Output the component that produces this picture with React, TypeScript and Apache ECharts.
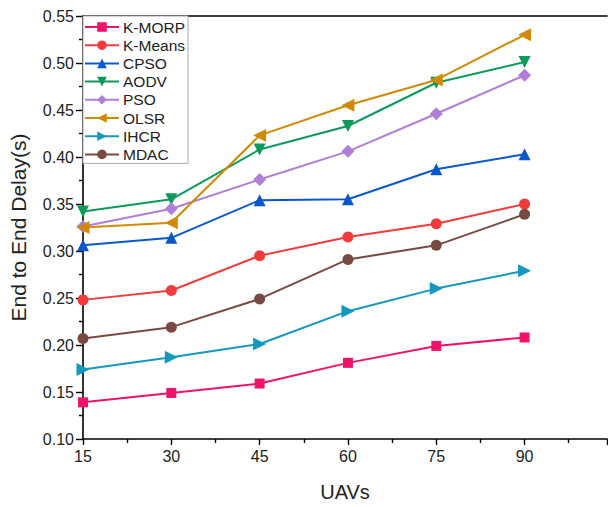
import React, { useEffect, useRef } from "react";
import * as echarts from "echarts";

const uavs = [15, 30, 45, 60, 75, 90];
const seriesNames = ["K-MORP", "K-Means", "CPSO", "AODV", "PSO", "OLSR", "IHCR", "MDAC"];
const kMorp = [0.139, 0.149, 0.159, 0.181, 0.199, 0.208];
const kMeans = [0.248, 0.258, 0.295, 0.315, 0.329, 0.350];
const cpso = [0.306, 0.314, 0.354, 0.355, 0.387, 0.403];
const aodv = [0.342, 0.355, 0.408, 0.433, 0.479, 0.501];
const pso = [0.326, 0.345, 0.376, 0.406, 0.446, 0.487];
const olsr = [0.325, 0.330, 0.423, 0.455, 0.482, 0.530];
const ihcr = [0.174, 0.187, 0.201, 0.236, 0.260, 0.279];
const mdac = [0.207, 0.219, 0.249, 0.291, 0.306, 0.339];
const allValues = [kMorp, kMeans, cpso, aodv, pso, olsr, ihcr, mdac];

const colors = ["#F0136A", "#F23B3B", "#0A58CC", "#0B9A5C", "#B07ED6", "#D08A05", "#1598BE", "#784B42"];
const symbols = ["rect", "circle", "triangle", "triangle", "diamond", "triangle", "triangle", "circle"];
const rotations = [0, 0, 0, 180, 0, 90, -90, 0];
const sizes = [10, 11, 12, 12, 13, 13, 13, 11];

const FONT = "'Liberation Sans', Arial, sans-serif";

export default function App() {
  const ref = useRef<HTMLDivElement>(null);
  useEffect(() => {
    if (!ref.current) return;
    const chart = echarts.init(ref.current, undefined, { renderer: "svg" });
    chart.setOption({
      animation: false,
      backgroundColor: "#ffffff",
      textStyle: { fontFamily: FONT },
      grid: { left: 82, top: 16, right: 1, bottom: 68 },
      legend: {
        orient: "vertical",
        left: 83,
        top: 16,
        itemWidth: 34,
        itemHeight: 12,
        itemGap: 2.2,
        padding: [3, 3, 1, 1],
        backgroundColor: "#ffffff",
        borderColor: "#aaaaaa",
        borderWidth: 1,
        borderRadius: 0,
        textStyle: { fontFamily: FONT, fontSize: 15.5, color: "#222", padding: [0, 0, 0, -1] },
        data: seriesNames,
      },
      xAxis: [
        {
          type: "value",
          min: 15,
          max: 104,
          interval: 15,
          name: "UAVs",
          nameLocation: "middle",
          nameGap: 43,
          nameTextStyle: { fontFamily: FONT, fontSize: 20, color: "#222" },
          axisLine: { show: true, onZero: false, lineStyle: { color: "#000", width: 1.6 } },
          axisTick: { show: true, length: 6, lineStyle: { color: "#000", width: 1.4 } },
          minorTick: { show: true, splitNumber: 2, length: 4, lineStyle: { color: "#000", width: 1.4 } },
          axisLabel: {
            fontFamily: FONT,
            fontSize: 16,
            color: "#222",
            margin: 9,
            showMaxLabel: false,
            formatter: (v: number) => (v % 15 === 0 ? String(v) : ""),
          },
          splitLine: { show: false },
        },
        {
          type: "value",
          position: "top",
          min: 15,
          max: 104,
          interval: 15,
          axisLine: { show: true, onZero: false, lineStyle: { color: "#000", width: 1.6 } },
          axisTick: { show: false },
          axisLabel: { show: false },
          splitLine: { show: false },
        },
      ],
      yAxis: {
        type: "value",
        min: 0.1,
        max: 0.55,
        interval: 0.05,
        name: "End to End Delay(s)",
        nameLocation: "middle",
        nameGap: 54,
        nameTextStyle: { fontFamily: FONT, fontSize: 21, color: "#222" },
        axisLine: { show: true, onZero: false, lineStyle: { color: "#000", width: 1.6 } },
        axisTick: { show: true, length: 7, lineStyle: { color: "#000", width: 1.4 } },
        minorTick: { show: true, splitNumber: 2, length: 4, lineStyle: { color: "#000", width: 1.4 } },
        axisLabel: {
          fontFamily: FONT,
          fontSize: 16,
          color: "#222",
          margin: 9,
          formatter: (v: number) => v.toFixed(2),
        },
        splitLine: { show: false },
      },
      series: seriesNames.map((name, i) => ({
        name,
        type: "line",
        data: uavs.map((x, j) => [x, allValues[i][j]]),
        symbol: symbols[i],
        symbolSize: sizes[i],
        symbolRotate: rotations[i],
        showAllSymbol: true,
        color: colors[i],
        lineStyle: { color: colors[i], width: 2 },
        itemStyle: { color: colors[i] },
      })),
    });
    return () => chart.dispose();
  }, []);
  return <div ref={ref} style={{ position: "fixed", left: 0, top: 0, width: 608, height: 507 }} />;
}
